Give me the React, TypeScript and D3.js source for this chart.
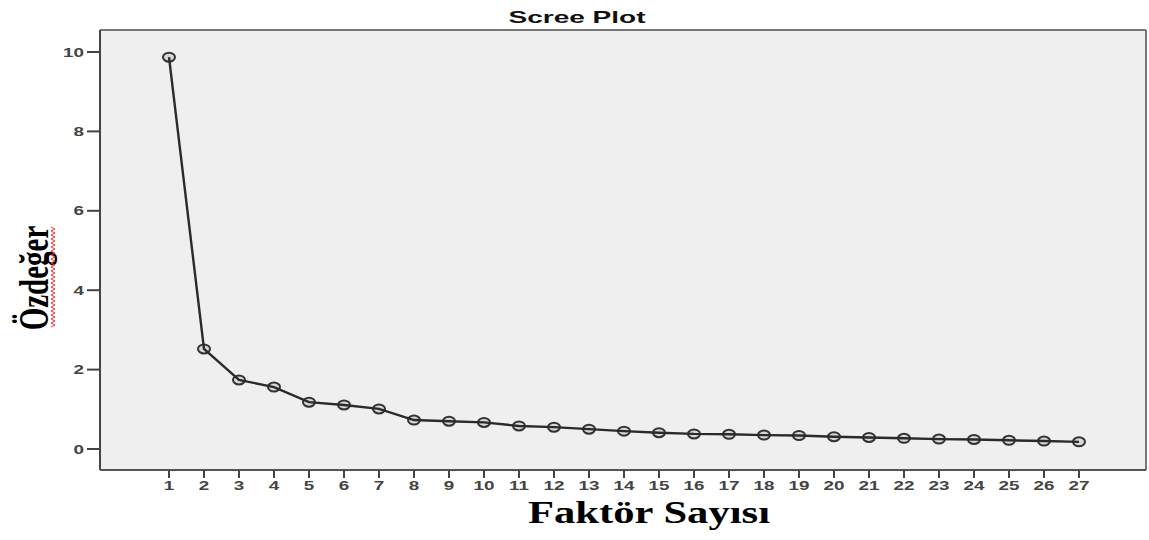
import React from "react";
import * as d3 from "d3";

const factors = d3.range(1, 28);
const eigenvalues = [9.87, 2.52, 1.74, 1.56, 1.18, 1.11, 1.01, 0.73, 0.70, 0.67, 0.58, 0.55, 0.50, 0.45, 0.41, 0.38, 0.37, 0.35, 0.34, 0.31, 0.29, 0.27, 0.25, 0.24, 0.22, 0.20, 0.18];
const yTicks = [0, 2, 4, 6, 8, 10];
const title = "Scree Plot";
const xTitle = "Faktör Sayısı";
const yTitle = "Özdeğer";

const W = 1149, H = 540;
const plot = { left: 100, top: 30, right: 1146, bottom: 470 };

export default function App() {
  const x = d3.scaleLinear().domain([1, 27]).range([169, 1079]);
  const y = d3.scaleLinear().domain([0, 10]).range([449, 52]);
  const line = d3.line<number>().x((_, i) => x(factors[i])).y((d) => y(d));

  const wave: [number, number][] = [];
  for (let yy = 227, k = 0; yy <= 328; yy += 2, k++) wave.push([k % 2 ? 55 : 51, yy]);
  const wavePath = d3.line()(wave) || "";

  const tickFont = "Arial, 'Liberation Sans', sans-serif";
  const sx = 1.45;
  return (
    <svg width={W} height={H} style={{ position: "absolute", left: 0, top: 0, background: "#fff" }}>
      <text transform={`translate(577,23) scale(1.65,1)`} textAnchor="middle" fontFamily={tickFont} fontWeight="bold" fontSize={17} fill="#111">{title}</text>
      <rect x={plot.left} y={plot.top} width={plot.right - plot.left} height={plot.bottom - plot.top} fill="#efefef" stroke="none" />
      <line x1={plot.left} x2={plot.right} y1={plot.top} y2={plot.top} stroke="#777" strokeWidth={2} />
      <line x1={plot.right} x2={plot.right} y1={plot.top} y2={plot.bottom} stroke="#777" strokeWidth={2} />
      <line x1={plot.left} x2={plot.left} y1={plot.top} y2={plot.bottom} stroke="#444" strokeWidth={2} />
      <line x1={plot.left} x2={plot.right} y1={plot.bottom} y2={plot.bottom} stroke="#555" strokeWidth={2} />
      {yTicks.map((t) => (
        <g key={t}>
          <line x1={87} x2={plot.left} y1={y(t)} y2={y(t)} stroke="#444" strokeWidth={2} />
          <text transform={`translate(84,${y(t) + 4.5}) scale(${sx},1)`} textAnchor="end" fontFamily={tickFont} fontWeight="bold" fontSize={13} fill="#444">{t}</text>
        </g>
      ))}
      {factors.map((f) => (
        <g key={f}>
          <line x1={x(f)} x2={x(f)} y1={plot.bottom} y2={plot.bottom + 8} stroke="#444" strokeWidth={2} />
          <text transform={`translate(${x(f)},490) scale(${sx},1)`} textAnchor="middle" fontFamily={tickFont} fontWeight="bold" fontSize={13} fill="#444">{f}</text>
        </g>
      ))}
      {eigenvalues.map((v, i) => (
        <ellipse key={i} cx={x(factors[i])} cy={y(v)} rx={6} ry={4.5} fill="#d8d8d8" stroke="#333" strokeWidth={2} />
      ))}
      <path d={line(eigenvalues) || ""} fill="none" stroke="#2a2a2a" strokeWidth={2.4} />
      <text transform={`translate(48,278) scale(1.45,1) rotate(-90)`} textAnchor="middle" fontFamily="'Liberation Serif', 'Times New Roman', serif" fontWeight="bold" fontSize={29} fill="#000">{yTitle}</text>
      <path d={wavePath} fill="none" stroke="#e33" strokeWidth={1} />
      <text x={649} y={523} textAnchor="middle" fontFamily="'Liberation Serif', 'Times New Roman', serif" fontWeight="bold" fontSize={31} fill="#000" textLength={242} lengthAdjust="spacingAndGlyphs">{xTitle}</text>
    </svg>
  );
}
